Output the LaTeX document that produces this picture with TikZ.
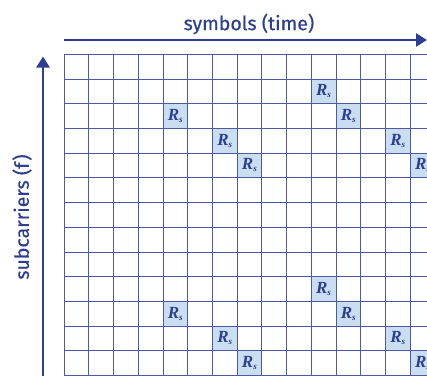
\documentclass[tikz,border=0pt]{standalone}
\usepackage{fontspec}
\setmainfont{Fira Sans}
\newfontfamily\labfont[FakeBold=0.6]{Fira Sans}
\newfontfamily\rsfont{Liberation Serif}
\usetikzlibrary{arrows.meta}
\definecolor{blu}{RGB}{44,62,145}
\definecolor{celeste}{RGB}{202,222,242}
\begin{document}
\begin{tikzpicture}
        [x=1pt,y=-1pt,
         griglia/.style={blu!85,line width=0.7pt},
         asse/.style={blu,line width=2.6pt,-{Triangle[length=11pt,width=13pt]}},
         etichetta/.style={text=blu,font=\labfont\fontsize{19.5}{19.5}\selectfont},
         rs/.style={fill=celeste,minimum size=24.7pt,inner sep=0pt,text=blu,
                    font=\rsfont\bfseries\itshape\fontsize{17}{17}\selectfont}]
            \useasboundingbox (0,0) rectangle (427,375);
            \clip (0,0) rectangle (427,375);
            %celle di riferimento
            \foreach \r/\c [count=\n] in {1/10,2/4,2/11,3/6,3/13,4/7,4/14,
                                          9/10,10/4,10/11,11/6,11/13,12/7,12/14}
                \node[rs] (rs\n) at ({64+24.72*(\c+0.5)},{54.3+24.7*(\r+0.5)})
                    {R\raisebox{-2pt}{\fontsize{9}{9}\selectfont s}};
            %disegno griglia
            \foreach \i in {0,...,15}
                \draw[griglia] ({64+24.72*\i},54.3) -- ({64+24.72*\i},380);
            \foreach \j in {0,...,13}
                \draw[griglia] (64,{54.3+24.7*\j}) -- (440,{54.3+24.7*\j});
            %disegno assi
            \coordinate (t0) at (64,40);
            \coordinate (t1) at (427,40);
            \draw[asse] (t0) -- (t1);
            \coordinate (f0) at (43,376);
            \coordinate (f1) at (43,56.5);
            \draw[asse] (f0) -- (f1);
            %label
            \node[etichetta] (tempo) at (249,24) {symbols (time)};
            \node[etichetta,rotate=90] (freq) at (22,217) {subcarriers (f)};
    \end{tikzpicture}
\end{document}
